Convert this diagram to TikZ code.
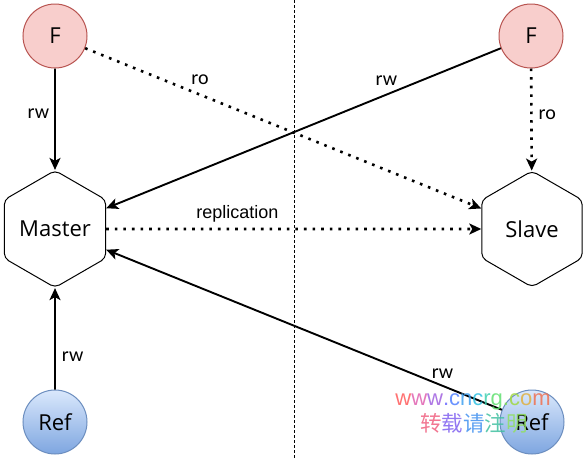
\documentclass[tikz,border=0pt]{standalone}
\usepackage{fontspec}
\setmainfont{Open Sans}
\newfontfamily\lblfont{Carlito}
\newfontfamily\repfont{Liberation Sans}
\newfontfamily\cjk{Noto Sans CJK SC}
\usetikzlibrary{shapes.geometric,arrows.meta}
\definecolor{fFill}{HTML}{F8CECC}
\definecolor{fDraw}{HTML}{B85450}
\definecolor{rTop}{HTML}{DAE8FC}
\definecolor{rBot}{HTML}{7EA6E0}
\definecolor{rDraw}{HTML}{6C8EBF}
\begin{document}
\begin{tikzpicture}[x=1pt,y=-1pt,
  circ/.style={circle, minimum size=64pt, inner sep=0pt, line width=1pt, font=\fontsize{22}{22}\selectfont},
  fnode/.style={circ, draw=fDraw, fill=fFill},
  refnode/.style={circ, draw=rDraw, top color=rTop, bottom color=rBot},
  hexnode/.style={regular polygon, regular polygon sides=6, shape border rotate=30,
    minimum size=116pt, inner sep=0pt, draw, line width=1pt, rounded corners=5pt,
    font=\fontsize{22}{22}\selectfont},
  tip/.style={-{Stealth[length=12pt,width=11pt,inset=3pt]}},
  solidedge/.style={tip, line width=1.9pt},
  dotedge/.style={tip, line width=2.6pt, dash pattern=on 2.6pt off 6pt},
  lbl/.style={font=\lblfont\fontsize{20}{20}\selectfont, inner sep=2pt},
  replbl/.style={font=\repfont\fontsize{18}{18}\selectfont, inner sep=2pt}
]
\useasboundingbox (0,0) rectangle (587,459);
\fill[white] (0,0) rectangle (587,459);

% divider
\coordinate (dtop) at (294,0);
\coordinate (dbot) at (294,459);
\draw[line width=0.9pt, dash pattern=on 2.5pt off 2.5pt] (dtop) -- (dbot);

% nodes
\node[fnode] (f1) at (55,36) {F};
\node[fnode] (f2) at (531,36) {F};
\node[hexnode] (master) at (55,229) {Master};
\node[hexnode] (slave) at (532,229) {Slave};
\node[refnode] (r1) at (55,422) {Ref};
\node[refnode] (r2) at (532,422) {Ref};

% edges
\draw[solidedge] (f1) -- node[lbl, pos=0.45, anchor=east, xshift=-3pt] {rw} (master);
\draw[dotedge] (f1) -- node[lbl, pos=0.29, above=7pt] {ro} (slave);
\draw[solidedge] (f2) -- node[lbl, pos=0.29, above=6pt] {rw} (master);
\draw[dotedge] (f2) -- node[lbl, pos=0.45, anchor=west, xshift=4pt] {ro} (slave);
\draw[dotedge] (master) -- node[replbl, pos=0.35, above=3pt] {replication} (slave);
\draw[solidedge] (r1) -- node[lbl, pos=0.32, anchor=west, xshift=4pt] {rw} (master);
\draw[solidedge] (r2) -- node[lbl, pos=0.15, above=4pt] {rw} (master);

% watermark
\node[font=\repfont\fontsize{22}{22}\selectfont, opacity=0.85, inner sep=0pt] (wm1) at (473,402)
  {\textcolor[HTML]{FF5A5A}{w}\textcolor[HTML]{E060B0}{w}\textcolor[HTML]{A060E0}{w}\textcolor[HTML]{6A6AFF}{.}\textcolor[HTML]{5080FF}{c}\textcolor[HTML]{40A0F0}{n}\textcolor[HTML]{30C0E0}{c}\textcolor[HTML]{40D0B0}{r}\textcolor[HTML]{60E070}{g}\textcolor[HTML]{80E050}{.}\textcolor[HTML]{A0D840}{c}\textcolor[HTML]{E0B040}{o}\textcolor[HTML]{F07050}{m}};
\node[font=\cjk\fontsize{21.5}{21.5}\selectfont, opacity=0.85, inner sep=0pt] (wm2) at (474,423)
  {\textcolor[HTML]{F06080}{转}\textcolor[HTML]{8060F0}{载}\textcolor[HTML]{4090F0}{请}\textcolor[HTML]{40C0A0}{注}\textcolor[HTML]{90E060}{明}};
\end{tikzpicture}
\end{document}
